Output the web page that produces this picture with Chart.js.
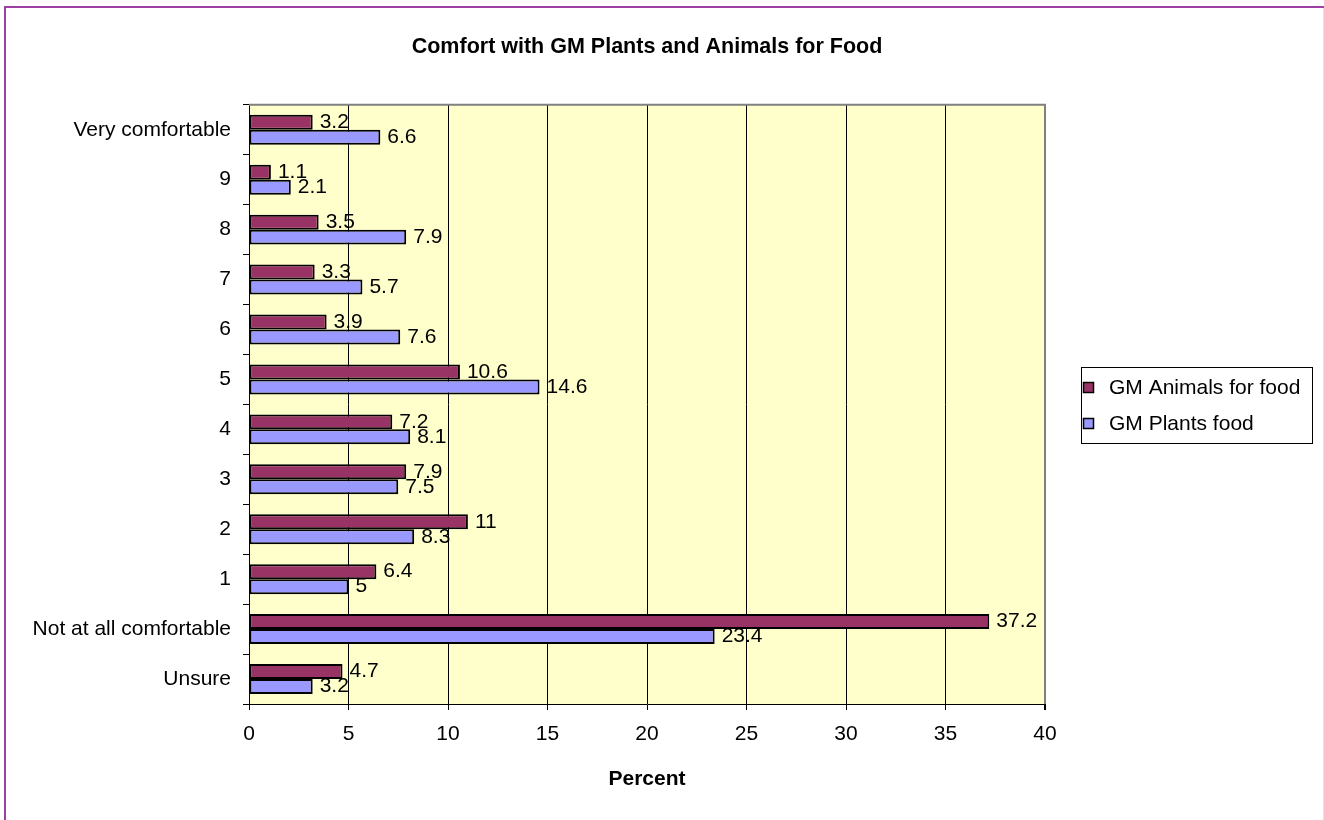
<!DOCTYPE html>
<html>
<head>
<meta charset="utf-8">
<title>Comfort with GM Plants and Animals for Food</title>
<script src="https://cdn.jsdelivr.net/npm/chart.js@4/dist/chart.umd.min.js"></script>
<style>
  html, body { margin: 0; padding: 0; background: #ffffff; }
  #wrap { position: relative; width: 1324px; height: 820px; }
</style>
</head>
<body>
<div id="wrap"><canvas id="chart" width="1324" height="820"></canvas></div>
<script>
// Survey responses, top row first
const categories = ['Very comfortable', '9', '8', '7', '6', '5', '4', '3', '2', '1', 'Not at all comfortable', 'Unsure'];
const animalsForFood = [3.2, 1.1, 3.5, 3.3, 3.9, 10.6, 7.2, 7.9, 11, 6.4, 37.2, 4.7];
const plantsFood = [6.6, 2.1, 7.9, 5.7, 7.6, 14.6, 8.1, 7.5, 8.3, 5, 23.4, 3.2];
const seriesNames = ['GM Animals for food', 'GM Plants food'];
const percentTicks = [0, 5, 10, 15, 20, 25, 30, 35, 40];

const FONT = '"Liberation Sans", Arial, sans-serif';
const PLOT_BG = '#FFFFCC';
const FRAME = '#9E3FA3';

// Page background, outer frame and plot-area fill
const backdrop = {
  id: 'backdrop',
  beforeDraw(chart) {
    const { ctx, chartArea: a, width, height } = chart;
    ctx.save();
    ctx.fillStyle = '#ffffff';
    ctx.fillRect(0, 0, width, height);
    ctx.fillStyle = FRAME;
    ctx.fillRect(4, 6, width - 4, 2);
    ctx.fillRect(4, 6, 2, height - 6);
    ctx.fillStyle = '#e4e4e4';
    ctx.fillRect(width - 1, 8, 1, height - 8);
    ctx.fillStyle = PLOT_BG;
    ctx.fillRect(a.left, a.top, a.right - a.left, a.bottom - a.top);
    ctx.restore();
  },
  beforeDatasetsDraw(chart) {
    const { ctx, chartArea: a } = chart;
    ctx.save();
    ctx.strokeStyle = '#808080';
    ctx.lineWidth = 2;
    ctx.beginPath();
    ctx.moveTo(a.left, a.top);
    ctx.lineTo(a.right, a.top);
    ctx.lineTo(a.right, a.bottom);
    ctx.stroke();
    ctx.restore();
  }
};

// Value printed just past the end of every bar
const valueLabels = {
  id: 'valueLabels',
  afterDatasetsDraw(chart) {
    const { ctx } = chart;
    ctx.save();
    ctx.font = '21px ' + FONT;
    ctx.fillStyle = '#000';
    ctx.textAlign = 'left';
    ctx.textBaseline = 'middle';
    chart.data.datasets.forEach((ds, di) => {
      const meta = chart.getDatasetMeta(di);
      meta.data.forEach((bar, i) => {
        ctx.fillText(String(ds.data[i]), bar.x + 7, bar.y);
      });
    });
    ctx.restore();
  }
};

// Boxed legend to the right of the plot
const sideLegend = {
  id: 'sideLegend',
  afterDraw(chart) {
    const { ctx } = chart;
    const box = { x: 1081, y: 367, w: 231, h: 76 };
    ctx.save();
    ctx.fillStyle = '#fff';
    ctx.fillRect(box.x, box.y, box.w, box.h);
    ctx.strokeStyle = '#000';
    ctx.lineWidth = 1;
    ctx.strokeRect(box.x + 0.5, box.y + 0.5, box.w, box.h);
    ctx.font = '21px ' + FONT;
    ctx.textBaseline = 'middle';
    ctx.textAlign = 'left';
    chart.data.datasets.forEach((ds, i) => {
      const cy = box.y + 20 + i * 36;
      ctx.fillStyle = ds.backgroundColor;
      ctx.fillRect(1083, cy - 5, 11, 11);
      ctx.strokeStyle = '#000';
      ctx.lineWidth = 1.5;
      ctx.strokeRect(1083.5, cy - 4.5, 10, 10);
      ctx.fillStyle = '#000';
      ctx.fillText(ds.label, 1109, cy + 1);
    });
    ctx.restore();
  }
};

new Chart(document.getElementById('chart'), {
  type: 'bar',
  data: {
    labels: categories,
    datasets: [
      {
        label: seriesNames[0],
        data: animalsForFood,
        backgroundColor: '#993366',
        borderColor: '#000000',
        borderWidth: 2,
        borderSkipped: false,
        categoryPercentage: 0.6,
        barPercentage: 1.0
      },
      {
        label: seriesNames[1],
        data: plantsFood,
        backgroundColor: '#9999FF',
        borderColor: '#000000',
        borderWidth: 2,
        borderSkipped: false,
        categoryPercentage: 0.6,
        barPercentage: 1.0
      }
    ]
  },
  options: {
    indexAxis: 'y',
    responsive: false,
    animation: false,
    devicePixelRatio: 1,
    layout: { padding: { left: 0, right: 279, top: 0, bottom: 0 } },
    plugins: {
      legend: { display: false },
      tooltip: { enabled: false },
      title: {
        display: true,
        text: 'Comfort with GM Plants and Animals for Food',
        fullSize: false,
        color: '#000',
        font: { family: FONT, size: 21.5, weight: 'bold' },
        padding: { top: 34, bottom: 45 }
      }
    },
    scales: {
      x: {
        type: 'linear',
        min: percentTicks[0],
        max: percentTicks[percentTicks.length - 1],
        afterBuildTicks(scale) {
          scale.ticks = percentTicks.map(v => ({ value: v }));
        },
        afterFit(scale) { scale.height = 116; },
        ticks: {
          color: '#000',
          font: { family: FONT, size: 21 },
          padding: 12,
          maxRotation: 0
        },
        grid: {
          color: c => (c.tick && c.tick.value === 40 ? '#808080' : '#000000'),
          lineWidth: c => (c.tick && c.tick.value === 40 ? 2 : 1),
          tickColor: '#000000',
          tickLength: 6,
          drawTicks: true
        },
        border: { display: true, color: '#000', width: 1 },
        title: {
          display: true,
          text: 'Percent',
          color: '#000',
          font: { family: FONT, size: 21, weight: 'bold' },
          padding: { top: 0, bottom: 28 }
        }
      },
      y: {
        type: 'category',
        afterFit(scale) { scale.width = 249; },
        ticks: {
          color: '#000',
          font: { family: FONT, size: 21 },
          padding: 12,
          autoSkip: false
        },
        grid: {
          offset: true,
          drawOnChartArea: false,
          drawTicks: true,
          tickLength: 6,
          tickColor: '#000',
          color: '#000'
        },
        border: { display: true, color: '#000', width: 1 }
      }
    }
  },
  plugins: [backdrop, valueLabels, sideLegend]
});
</script>
</body>
</html>
